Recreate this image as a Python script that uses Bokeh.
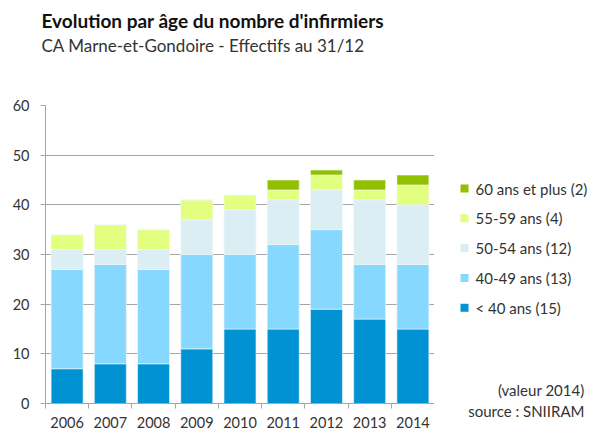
from bokeh.plotting import figure
from bokeh.layouts import column, row
from bokeh.models import ColumnDataSource, FixedTicker, Range1d
from bokeh.core.properties import value
from bokeh.embed import file_html
from bokeh.resources import INLINE

years = [2006, 2007, 2008, 2009, 2010, 2011, 2012, 2013, 2014]
under40 = [7, 8, 8, 11, 15, 15, 19, 17, 15]
a40_49 = [20, 20, 19, 19, 15, 17, 16, 11, 13]
a50_54 = [4, 3, 4, 7, 9, 9, 8, 13, 12]
a55_59 = [3, 5, 4, 4, 3, 2, 3, 2, 4]
a60p = [0, 0, 0, 0, 0, 2, 1, 2, 2]

series_keys = ["under40", "a40_49", "a50_54", "a55_59", "a60p"]
series_labels = ["< 40 ans (15)", "40-49 ans (13)", "50-54 ans (12)",
                 "55-59 ans (4)", "60 ans et plus (2)"]
colors = ["#0092D2", "#87D8FE", "#DAEEF3", "#E3FF7F", "#92C000"]
y_ticks = [0, 10, 20, 30, 40, 50, 60]

title_text = "Evolution par âge du nombre d'infirmiers"
subtitle_text = "CA Marne-et-Gondoire - Effectifs au 31/12"
notes = ["(valeur 2014)", "source : SNIIRAM"]

FONT = "Lato"
TXT = "#333333"
GRID = "#A6A6A6"

W, H = 592, 431
TOP_H = 60
MAIN_W = 434
SIDE_W = W - MAIN_W
ROW_H = H - TOP_H


def blank(width, height):
    f = figure(width=width, height=height, output_backend="svg",
               toolbar_location=None, x_range=Range1d(0, width),
               y_range=Range1d(0, height), min_border=0,
               x_axis_location=None, y_axis_location=None)
    f.outline_line_color = None
    f.grid.visible = False
    f.frame_align = False
    return f


# ---- title band ----
pt = blank(W, TOP_H)
pt.text(x=[41], y=[TOP_H - 20], text=[title_text], text_font=value(FONT),
        text_font_size="19px", text_font_style="bold", text_color="#111111",
        text_baseline="middle", text_align="left")
pt.text(x=[41], y=[TOP_H - 45], text=[subtitle_text], text_font=value(FONT),
        text_font_size="17px", text_color=TXT,
        text_baseline="middle", text_align="left")

# ---- main chart ----
source = ColumnDataSource(dict(year=years, under40=under40, a40_49=a40_49,
                               a50_54=a50_54, a55_59=a55_59, a60p=a60p))

p = figure(width=MAIN_W, height=ROW_H, output_backend="svg",
           toolbar_location=None,
           x_range=Range1d(years[0] - 0.5, years[-1] + 0.5),
           y_range=Range1d(0, 60),
           min_border_left=45, min_border_right=0, min_border_top=45,
           min_border_bottom=28)
p.outline_line_color = None
p.frame_align = False

p.vbar_stack(series_keys, x="year", width=0.74, fill_color=colors,
             line_color="#F4F8FA", line_width=0.6, source=source)

p.xaxis.ticker = FixedTicker(ticks=years,
                             minor_ticks=[y - 0.5 for y in years] + [years[-1] + 0.5])
p.xaxis.major_tick_line_color = None
p.xaxis.major_tick_out = 5
p.xaxis.major_tick_in = 0
p.xaxis.minor_tick_out = 5
p.xaxis.minor_tick_in = 0
p.xaxis.minor_tick_line_color = GRID
p.xaxis.axis_line_color = GRID
p.xaxis.major_label_text_font = FONT
p.xaxis.major_label_text_font_size = "14.5px"
p.xaxis.major_label_text_color = TXT
p.xaxis.major_label_standoff = 8

p.yaxis.ticker = FixedTicker(ticks=y_ticks)
p.yaxis.minor_tick_line_color = None
p.yaxis.major_tick_out = 5
p.yaxis.major_tick_in = 0
p.yaxis.major_tick_line_color = GRID
p.yaxis.axis_line_color = GRID
p.yaxis.major_label_text_font = FONT
p.yaxis.major_label_text_font_size = "14.5px"
p.yaxis.major_label_text_color = TXT
p.yaxis.major_label_standoff = 11

p.xgrid.grid_line_color = None
p.ygrid.grid_line_color = GRID
p.ygrid.grid_line_width = 1

# ---- side panel: legend + notes ----
ps = blank(SIDE_W, ROW_H)
n = len(series_labels)
first_row_page_y = 188
pitch = 29.8
leg_y = [H - (first_row_page_y + (n - 1 - i) * pitch) for i in range(n)]
ps.scatter(x=[464 - MAIN_W] * n, y=leg_y, marker="square", size=8,
           color=colors, line_color=None)
ps.text(x=[475 - MAIN_W] * n, y=leg_y, text=series_labels,
        text_font=value(FONT), text_font_size="15px", text_color=TXT,
        text_baseline="middle", text_align="left")
ps.text(x=[584 - MAIN_W] * len(notes), y=[H - 389, H - 410], text=notes,
        text_font=value(FONT), text_font_size="15px", text_color=TXT,
        text_baseline="middle", text_align="right")

layout = column(pt, row(p, ps, spacing=0), spacing=0)
open("out.html", "w").write(file_html(layout, INLINE))
